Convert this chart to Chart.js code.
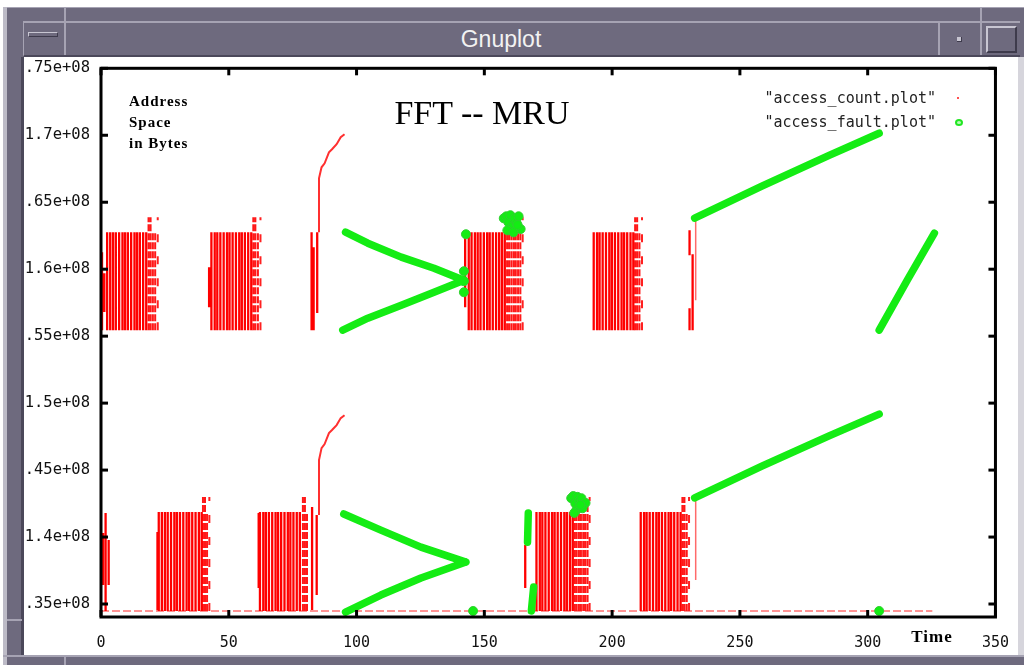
<!DOCTYPE html>
<html>
<head>
<meta charset="utf-8">
<script src="https://cdn.jsdelivr.net/npm/chart.js@4"></script>
<style>
html,body{margin:0;padding:0;background:#fff;}
#page{position:relative;width:1024px;height:665px;overflow:hidden;background:#fff;}
.f{position:absolute;box-sizing:border-box;}
.t{position:absolute;white-space:nowrap;color:#000;}
#c{position:absolute;left:24px;top:48px;}
</style>
</head>
<body>
<div id="page">
  <!-- window frame -->
  <div class="f" style="left:3px;top:7px;width:1021px;height:658px;background:#6e6a7e;"></div>
  <div class="f" style="left:3px;top:7px;width:1021px;height:1px;background:#a6a3b3;"></div>
  <div class="f" style="left:3px;top:7px;width:4px;height:658px;background:#bdbbc7;"></div>
  <div class="f" style="left:64px;top:8px;width:2px;height:13px;background:#a6a3b3;"></div>
  <div class="f" style="left:980px;top:8px;width:2px;height:13px;background:#a6a3b3;"></div>
  <div class="f" style="left:23px;top:21px;width:997px;height:36px;background:#6e6a7e;border-top:2px solid #a6a3b3;border-left:1px solid #a6a3b3;border-bottom:2px solid #4b485a;"></div>
  <div class="f" style="left:64px;top:22px;width:2px;height:33px;background:#a6a3b3;"></div>
  <div class="f" style="left:938px;top:22px;width:2px;height:33px;background:#a6a3b3;"></div>
  <div class="f" style="left:980px;top:22px;width:2px;height:33px;background:#a6a3b3;"></div>
  <div class="f" style="left:28px;top:32px;width:30px;height:5px;background:#6e6a7e;border-top:1px solid #c8c6d2;border-left:1px solid #c8c6d2;border-bottom:1px solid #3e3b4c;border-right:1px solid #3e3b4c;"></div>
  <div class="f" style="left:957px;top:37px;width:5px;height:5px;background:#c8c6d2;border-right:1px solid #3e3b4c;border-bottom:1px solid #3e3b4c;"></div>
  <div class="f" style="left:986px;top:26px;width:31px;height:27px;background:#6e6a7e;border-top:2px solid #c8c6d2;border-left:2px solid #c8c6d2;border-bottom:2px solid #3e3b4c;border-right:2px solid #3e3b4c;"></div>
  <div class="t" style="left:501px;top:39px;transform:translate(-50%,-50%);font:23px 'Liberation Sans',sans-serif;color:#f2f2f2;line-height:1;">Gnuplot</div>
  <div class="f" style="left:21px;top:57px;width:3px;height:598px;background:#4b485a;"></div>
  <div class="f" style="left:7px;top:619px;width:15px;height:2px;background:#a6a3b3;"></div>
  <div class="f" style="left:1018px;top:57px;width:6px;height:598px;background:#d6d5dc;"></div>
  <div class="f" style="left:3px;top:655px;width:1021px;height:2px;background:#a6a3b3;"></div>
  <div class="f" style="left:64px;top:657px;width:2px;height:8px;background:#a6a3b3;"></div>

  <!-- client area -->
  <div class="f" style="left:24px;top:57px;width:994px;height:598px;background:#fff;"></div>
  <canvas id="c" width="1002" height="607"></canvas>

  <!-- texts -->
  <div class="t" style="left:482px;top:113px;transform:translate(-50%,-50%);font:34px 'Liberation Serif',serif;line-height:1;">FFT -- MRU</div>
  <div class="t" style="left:129px;top:101px;transform:translateY(-50%);font:bold 15px 'Liberation Serif',serif;letter-spacing:1px;line-height:1;">Address</div>
  <div class="t" style="left:129px;top:122px;transform:translateY(-50%);font:bold 15px 'Liberation Serif',serif;letter-spacing:1px;line-height:1;">Space</div>
  <div class="t" style="left:129px;top:143px;transform:translateY(-50%);font:bold 15px 'Liberation Serif',serif;letter-spacing:1px;line-height:1;">in Bytes</div>
  <div class="t" style="left:932px;top:636px;transform:translate(-50%,-50%);font:bold 17px 'Liberation Serif',serif;letter-spacing:1px;line-height:1;">Time</div>
  <div class="t" style="right:88px;top:98px;transform:translateY(-50%);font:15px 'DejaVu Sans Mono',monospace;line-height:1;color:#222;">"access_count.plot"</div>
  <div class="t" style="right:88px;top:122px;transform:translateY(-50%);font:15px 'DejaVu Sans Mono',monospace;line-height:1;color:#222;">"access_fault.plot"</div>
  <div class="f" style="left:957px;top:97px;width:2px;height:2px;background:#ff5050;"></div>
  <div class="f" style="left:955px;top:119px;width:8px;height:7px;border:2px solid #22e622;border-radius:50%;background:#b8f8b8;"></div>
</div>

<script>
// ---------- axes ----------
const xTickValues = [0, 50, 100, 150, 200, 250, 300, 350];
const xTickLabels = ['0', '50', '100', '150', '200', '250', '300', '350'];
const yTickValues = [1.35e8, 1.40e8, 1.45e8, 1.50e8, 1.55e8, 1.60e8, 1.65e8, 1.70e8, 1.75e8];
const yTickLabels = ['.35e+08', '1.4e+08', '.45e+08', '1.5e+08', '.55e+08', '1.6e+08', '.65e+08', '1.7e+08', '.75e+08'];
const xRange = [0, 350];
const yRange = [1.3403e8, 1.75e8];

// ---------- access_count (red) ----------
const upperBand = [1.5545e8, 1.6276e8];
const upperTallTop = 1.6388e8;
const lowerBand = [1.3448e8, 1.4187e8];
const lowerTallTop = 1.4299e8;

const upperSolidT = [2.4, 3.6, 4.7, 5.8, 7.1, 8.4, 9.4, 10.5, 11.8, 13.1, 14.1, 15.2, 16.5, 17.7,
  43.2, 44.5, 45.5, 46.7, 48.0, 49.3, 50.3, 51.5, 52.8, 54.1, 55.1, 56.3, 57.6, 58.8,
  143.9, 145.0, 146.3, 147.4, 148.5, 149.8, 151.1, 152.1, 153.3, 154.6, 155.8, 156.9, 158.0,
  192.8, 194.1, 195.1, 196.3, 197.6, 198.9, 199.9, 201.1, 202.4, 203.7, 204.7, 205.9, 207.2, 208.3];
const upperDashT   = [18.6, 19.4, 20.3, 21.2, 59.6, 60.4, 61.4, 158.9, 159.7, 160.6, 161.5, 162.3, 163.2, 164.1, 209.0, 209.8, 210.7];
const upperDashTop = [1.6388e8, 1.6388e8, 1.6276e8, 1.6276e8, 1.6388e8, 1.6388e8, 1.6276e8, 1.6276e8, 1.6388e8, 1.6276e8, 1.6388e8, 1.6276e8, 1.6276e8, 1.6300e8, 1.6388e8, 1.6388e8, 1.6276e8];
const upperFringeT = [22.2, 62.4, 165.0, 211.7];

const lowerSolidT = [22.6, 23.8, 25.0, 26.1, 27.4, 28.7, 29.7, 30.9, 32.2, 33.5, 34.5, 35.7, 37.0, 38.3, 39.4,
  62.2, 63.5, 64.5, 65.7, 67.0, 68.3, 69.3, 70.5, 71.8, 73.1, 74.1, 75.3, 76.6, 77.8,
  170.4, 171.7, 172.7, 173.9, 175.2, 176.5, 177.5, 178.7, 180.0, 181.3, 182.3, 183.5, 184.6,
  211.2, 212.5, 213.5, 214.7, 216.0, 217.3, 218.3, 219.5, 220.8, 222.1, 223.1, 224.3, 225.6, 226.8];
const lowerDashT   = [39.9, 40.7, 41.5, 79.0, 79.8, 80.6, 185.3, 186.1, 187.0, 187.8, 188.7, 189.5, 190.4, 227.5, 228.3, 229.2];
const lowerDashTop = [1.4299e8, 1.4299e8, 1.4187e8, 1.4299e8, 1.4299e8, 1.4187e8, 1.4187e8, 1.4299e8, 1.4187e8, 1.4299e8, 1.4187e8, 1.4187e8, 1.4230e8, 1.4299e8, 1.4299e8, 1.4187e8];
const lowerFringeT = [42.4, 191.2, 230.1];

// partial single columns [time, low, high]
const partialT    = [0.4, 1.3, 42.3, 82.4, 83.2, 84.6, 142.5, 230.3, 230.3, 231.5,
                     0.8, 1.8, 3.0, 22.1, 61.7, 82.6, 84.4, 166.0];
const partialLow  = [1.5545e8, 1.5680e8, 1.5716e8, 1.5545e8, 1.5545e8, 1.5672e8, 1.5716e8, 1.6104e8, 1.5545e8, 1.5545e8,
                     1.3642e8, 1.3448e8, 1.3642e8, 1.3455e8, 1.3619e8, 1.3455e8, 1.3567e8, 1.3619e8];
const partialHigh = [1.6127e8, 1.5970e8, 1.6015e8, 1.6276e8, 1.6164e8, 1.6276e8, 1.6269e8, 1.6291e8, 1.5709e8, 1.6112e8,
                     1.4030e8, 1.4179e8, 1.3978e8, 1.4037e8, 1.4179e8, 1.4224e8, 1.4164e8, 1.3940e8];
const thinT    = [232.7, 232.7];
const thinLow  = [1.5769e8, 1.3679e8];
const thinHigh = [1.6381e8, 1.4276e8];

const risingT      = [85.3, 85.3, 86.3, 87.5, 89.2, 90.4, 92.2, 93.8, 95.3];
const risingUpperY = [1.6276e8, 1.6679e8, 1.6761e8, 1.6791e8, 1.6873e8, 1.6896e8, 1.6933e8, 1.6985e8, 1.7007e8];
const risingLowerY = [1.4164e8, 1.4575e8, 1.4664e8, 1.4694e8, 1.4776e8, 1.4799e8, 1.4836e8, 1.4888e8, 1.4910e8];
const baselineT = [0, 325.3];
const baselineY = [1.3448e8, 1.3448e8];

// ---------- access_fault (green) ----------
const fUpArmAT = [95.7, 104.4, 117.5, 130.3, 142.0];
const fUpArmAY = [1.6276e8, 1.6194e8, 1.6090e8, 1.6007e8, 1.5918e8];
const fUpArmBT = [94.6, 104.4, 117.5, 130.3, 142.0];
const fUpArmBY = [1.5545e8, 1.5634e8, 1.5731e8, 1.5828e8, 1.5918e8];
const fLoArmAT = [95.0, 109.5, 125.2, 142.8];
const fLoArmAY = [1.4172e8, 1.4052e8, 1.3925e8, 1.3813e8];
const fLoArmBT = [95.7, 109.5, 125.2, 142.8];
const fLoArmBY = [1.3440e8, 1.3567e8, 1.3694e8, 1.3813e8];
const fUpLongT = [232.3, 258.6, 284.9, 304.5];
const fUpLongY = [1.6381e8, 1.6620e8, 1.6850e8, 1.7015e8];
const fLoLongT = [232.3, 258.6, 284.9, 304.5];
const fLoLongY = [1.4292e8, 1.4530e8, 1.4755e8, 1.4918e8];
const fSteepT  = [304.5, 315.5, 326.1];
const fSteepY  = [1.5545e8, 1.5918e8, 1.6269e8];
const fBlobAT  = [167.2, 166.9];
const fBlobAY  = [1.4180e8, 1.3962e8];
const fBlobBT  = [169.3, 168.4];
const fBlobBY  = [1.3627e8, 1.3448e8];
const fDotsT = [142.8, 142.0, 142.0, 142.0, 157.6, 158.6, 159.4, 160.2, 161.0, 161.8, 162.6, 163.4, 164.2, 159.0, 161.4, 163.0,
                184.0, 184.8, 185.6, 186.4, 187.2, 188.0, 188.8, 189.6, 186.0, 188.4, 185.2, 187.6, 145.6, 304.5];
const fDotsY = [1.6261e8, 1.5985e8, 1.5910e8, 1.5828e8, 1.6380e8, 1.6395e8, 1.6350e8, 1.6403e8, 1.6320e8, 1.6380e8, 1.6345e8, 1.6395e8, 1.6300e8, 1.6290e8, 1.6275e8, 1.6330e8,
                1.4290e8, 1.4306e8, 1.4250e8, 1.4300e8, 1.4270e8, 1.4290e8, 1.4240e8, 1.4255e8, 1.4200e8, 1.4215e8, 1.4180e8, 1.4240e8, 1.3448e8, 1.3448e8];

// ---------- builders ----------
function columns(ts, lows, highs) {
  const out = [];
  ts.forEach((t, i) => {
    const lo = Array.isArray(lows) ? lows[i] : lows;
    const hi = Array.isArray(highs) ? highs[i] : highs;
    out.push({x: t, y: lo}, {x: t, y: hi}, {x: t, y: null});
  });
  return out;
}
function polylines(list) {
  const out = [];
  list.forEach(([ts, ys]) => {
    ts.forEach((t, i) => out.push({x: t, y: ys[i]}));
    out.push({x: ts[ts.length - 1], y: null});
  });
  return out;
}
const RED = '#ff0000', GREEN = '#14ec14';

const solidRed = columns(upperSolidT, upperBand[0], upperBand[1])
  .concat(columns(lowerSolidT, lowerBand[0], lowerBand[1]))
  .concat(columns(partialT, partialLow, partialHigh));
const dashRed = columns(upperDashT, upperBand[0], upperDashTop)
  .concat(columns(lowerDashT, lowerBand[0], lowerDashTop));
const fringeRed = columns(upperFringeT, upperBand[0], upperTallTop)
  .concat(columns(lowerFringeT, lowerBand[0], lowerTallTop));

const datasets = [
  {label: 'access_fault.plot', data: polylines([[fUpArmAT, fUpArmAY], [fUpArmBT, fUpArmBY], [fLoArmAT, fLoArmAY], [fLoArmBT, fLoArmBY],
      [fUpLongT, fUpLongY], [fLoLongT, fLoLongY], [fSteepT, fSteepY], [fBlobAT, fBlobAY], [fBlobBT, fBlobBY]]),
    borderColor: GREEN, borderWidth: 7.5, borderCapStyle: 'round', borderJoinStyle: 'round', pointRadius: 0, order: 0},
  {label: 'access_fault.plot dots', data: fDotsT.map((t, i) => ({x: t, y: fDotsY[i]})), showLine: false,
    pointRadius: 4.5, pointBackgroundColor: GREEN, pointBorderColor: '#30d030', pointBorderWidth: 1, order: 0},
  {label: 'access_count.plot', data: solidRed, borderColor: RED, borderWidth: 2.3, pointRadius: 0, order: 2},
  {label: 'access_count.plot dashed', data: dashRed, borderColor: '#ff1818', borderWidth: 2, borderDash: [7, 2], pointRadius: 0, order: 2},
  {label: 'access_count.plot fringe', data: fringeRed, borderColor: '#ff2020', borderWidth: 2, borderDash: [8, 14], pointRadius: 0, order: 2},
  {label: 'access_count.plot thin', data: columns(thinT, thinLow, thinHigh), borderColor: '#ff6a6a', borderWidth: 1.5, pointRadius: 0, order: 2},
  {label: 'access_count.plot rising', data: polylines([[risingT, risingUpperY], [risingT, risingLowerY]]), borderColor: '#ff3030', borderWidth: 2, pointRadius: 0, order: 2},
  {label: 'access_count.plot base', data: polylines([[baselineT, baselineY]]), borderColor: '#ff7070', borderWidth: 1.5, borderDash: [8, 3], pointRadius: 0, order: 3}
];

const framePlugin = {
  id: 'frame',
  afterDraw(chart) {
    const {ctx, chartArea: a, scales: {x, y}} = chart;
    ctx.save();
    ctx.strokeStyle = '#000';
    ctx.lineWidth = 3;
    ctx.strokeRect(a.left, a.top, a.right - a.left, a.bottom - a.top);
    const seg = (x1, y1, x2, y2) => { ctx.beginPath(); ctx.moveTo(x1, y1); ctx.lineTo(x2, y2); ctx.stroke(); };
    x.ticks.forEach(t => {
      const p = x.getPixelForValue(t.value);
      seg(p, a.bottom, p, a.bottom - 7);
      seg(p, a.top, p, a.top + 7);
    });
    y.ticks.forEach(t => {
      const p = y.getPixelForValue(t.value);
      seg(a.left, p, a.left + 7, p);
      seg(a.right, p, a.right - 7, p);
    });
    ctx.restore();
  }
};

new Chart(document.getElementById('c'), {
  type: 'line',
  data: {datasets},
  options: {
    responsive: false,
    devicePixelRatio: 1,
    animation: false,
    spanGaps: false,
    layout: {padding: {left: 0, right: 23, top: 11, bottom: 0}},
    plugins: {legend: {display: false}, tooltip: {enabled: false}},
    scales: {
      x: {
        type: 'linear', min: xRange[0], max: xRange[1],
        afterBuildTicks: s => { s.ticks = xTickValues.map(v => ({value: v})); },
        afterFit: s => { s.height = 38; },
        grid: {display: false, drawTicks: false}, border: {display: false},
        ticks: {autoSkip: false, maxRotation: 0, padding: 17, color: '#111',
          font: {family: 'DejaVu Sans Mono', size: 15},
          callback: (v, i) => xTickLabels[i]}
      },
      y: {
        type: 'linear', min: yRange[0], max: yRange[1],
        afterBuildTicks: s => { s.ticks = yTickValues.map(v => ({value: v})); },
        afterFit: s => { s.width = 77; },
        grid: {display: false, drawTicks: false}, border: {display: false},
        ticks: {autoSkip: false, padding: 11, color: '#111',
          font: {family: 'DejaVu Sans Mono', size: 15.5},
          callback: (v, i) => yTickLabels[i]}
      }
    }
  },
  plugins: [framePlugin]
});
</script>
</body>
</html>
